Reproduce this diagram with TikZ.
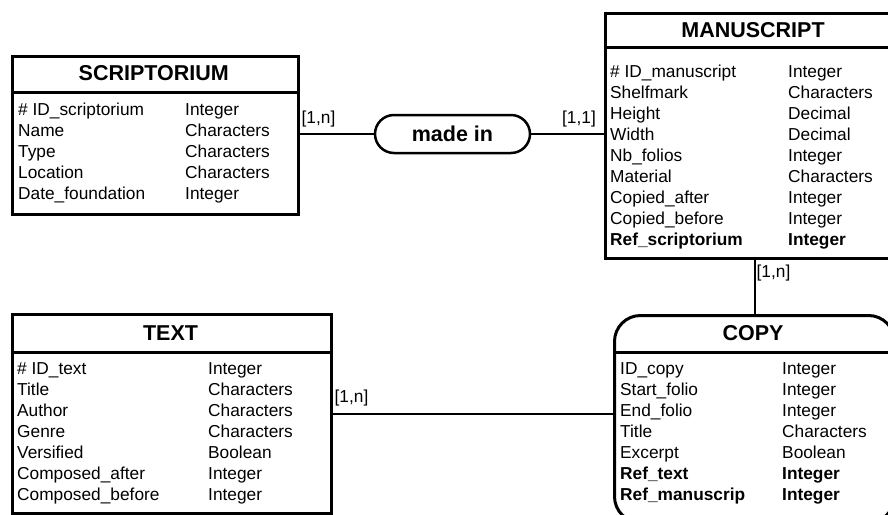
\documentclass[tikz,border=0pt]{standalone}
\usepackage{fontspec}
\setmainfont{Liberation Sans}
\begin{document}
\begin{tikzpicture}[x=1pt,y=-1pt,
  entity/.style={draw, line width=3pt, anchor=north west, inner sep=0pt},
  divider/.style={line width=3pt},
  etitle/.style={inner sep=0pt, font=\fontsize{21.5}{26}\selectfont\bfseries},
  attr/.style={inner sep=0pt, anchor=base west, font=\fontsize{17.3}{21}\selectfont},
  conn/.style={line width=2pt},
  card/.style={inner sep=0pt, font=\fontsize{17.3}{21}\selectfont},
  relation/.style={draw, line width=2.5pt, rounded corners=19pt, minimum width=155pt, minimum height=38pt, inner sep=0pt, font=\fontsize{21.5}{26}\selectfont\bfseries}]
\useasboundingbox (0,0) rectangle (888,514);
\clip (0,0) rectangle (888,514);
\newcommand\entityrows[5]{%
  \foreach \n/\v [count=\i from 0] in {#5} {%
    \node[attr] (#1-n\i) at ({#2},{#4+21*\i}) {\n};
    \node[attr] (#1-v\i) at ({#3},{#4+21*\i}) {\v};
  }}

% SCRIPTORIUM
\node[entity, minimum width=285.5pt, minimum height=157.5pt] (scr) at (11,55) {};
\draw[divider] ([yshift=-37pt]scr.north west) -- ([yshift=-37pt]scr.north east);
\node[etitle] (scr-t) at (153.75,73.5) {SCRIPTORIUM};
\entityrows{scr}{18}{185}{115}{\#\ ID\_scriptorium/Integer, Name/Characters, Type/Characters, Location/Characters, Date\_foundation/Integer}

% MANUSCRIPT
\node[entity, minimum width=298pt, minimum height=244.5pt] (man) at (604,12) {};
\draw[divider] ([yshift=-35pt]man.north west) -- ([yshift=-35pt]man.north east);
\node[etitle] (man-t) at (753,30.5) {MANUSCRIPT};
\entityrows{man}{610}{788}{77}{\#\ ID\_manuscript/Integer, Shelfmark/Characters, Height/Decimal, Width/Decimal, Nb\_folios/Integer, Material/Characters, Copied\_after/Integer, Copied\_before/Integer, {\bfseries Ref\_scriptorium}/{\bfseries Integer}}

% TEXT
\node[entity, minimum width=319pt, minimum height=199pt] (txt) at (11,313) {};
\draw[divider] ([yshift=-39pt]txt.north west) -- ([yshift=-39pt]txt.north east);
\node[etitle] (txt-t) at (170.5,333) {TEXT};
\entityrows{txt}{17}{208}{374}{\#\ ID\_text/Integer, Title/Characters, Author/Characters, Genre/Characters, Versified/Boolean, Composed\_after/Integer, Composed\_before/Integer}

% COPY
\node[entity, rounded corners=26pt, minimum width=280pt, minimum height=207pt] (copy) at (613,314) {};
\draw[divider] ([yshift=-38pt]copy.north west) -- ([yshift=-38pt]copy.north east);
\node[etitle] (copy-t) at (753,333) {COPY};
\entityrows{copy}{620}{782}{374}{ID\_copy/Integer, Start\_folio/Integer, End\_folio/Integer, Title/Characters, Excerpt/Boolean, {\bfseries Ref\_text}/{\bfseries Integer}, {\bfseries Ref\_manuscrip}/{\bfseries Integer}}

% relation
\node[relation] (made) at (452.5,134) {made in};

% connectors
\draw[conn] (made.west) -- (made.west -| scr.east);
\draw[conn] (made.east) -- (made.east -| man.west);
\draw[conn] (man.south) -- (copy.north);
\draw[conn] (txt.east) -- (txt.east -| copy.west);

% cardinalities
\node[card] (c1) at (318.5,119) {[1,n]};
\node[card] (c2) at (579,119) {[1,1]};
\node[card] (c3) at (773.5,273) {[1,n]};
\node[card] (c4) at (351.5,398) {[1,n]};
\end{tikzpicture}
\end{document}
